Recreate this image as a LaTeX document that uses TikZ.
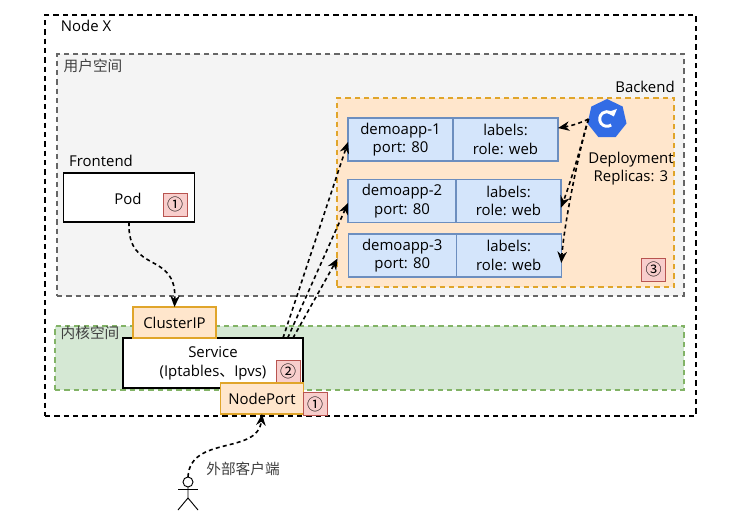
\documentclass[tikz,border=0pt]{standalone}
\usepackage{fontspec}
\setmainfont{Open Sans}
\newfontfamily\cjkfont{Noto Sans CJK SC}
\usetikzlibrary{arrows.meta, positioning, shapes.geometric}
\definecolor{userfill}{HTML}{F4F4F4}
\definecolor{kernfill}{HTML}{D5E8D4}
\definecolor{kerndraw}{HTML}{82B366}
\definecolor{backfill}{HTML}{FFE6CC}
\definecolor{backdraw}{HTML}{E0A52A}
\definecolor{appfill}{HTML}{D4E5FB}
\definecolor{appdraw}{HTML}{6C8EBF}
\definecolor{numfill}{HTML}{F8CECC}
\definecolor{numdraw}{HTML}{B85450}
\definecolor{k8sblue}{HTML}{326CE5}

\begin{document}
\begin{tikzpicture}[
    x=0.75pt, y=-0.75pt,
    every node/.style={outer sep=0pt, inner sep=0pt, font=\fontsize{11.2}{14}\selectfont},
    space/.style={
        rectangle,
        dashed,
        dash pattern=on 4pt off 3pt,
        draw
    },
    whitebox/.style={
        rectangle,
        draw,
        fill=white,
        line width=1.1pt,
        align=center
    },
    portbox/.style={
        rectangle,
        draw=backdraw,
        fill=backfill,
        line width=1.2pt,
        minimum width=62pt,
        minimum height=23.25pt
    },
    appbox/.style={
        rectangle,
        draw=appdraw,
        fill=appfill,
        line width=0.9pt,
        minimum width=78.75pt,
        minimum height=32.25pt,
        align=center
    },
    numbox/.style={
        rectangle,
        draw=numdraw,
        fill=numfill,
        line width=0.4pt,
        minimum width=18pt,
        minimum height=17.25pt,
        font=\cjkfont\fontsize{12}{14}\selectfont
    },
    cjklabel/.style={font=\cjkfont\fontsize{11}{13}\selectfont, text=black!75},
    arrow/.style={
        -{Stealth[length=3mm, width=2.5mm]},
        dashed,
        dash pattern=on 3pt off 2.4pt,
        line width=1.2pt
    }
]
\useasboundingbox (0,0) rectangle (756,512);

% Spaces
\node[space, line width=1pt, minimum width=488.25pt, minimum height=300.75pt] (nodex) at (370.5,215.5) {};
\node[space, draw=black!60, fill=userfill, line width=0.9pt, minimum width=470.25pt, minimum height=181.5pt] (user) at (370.5,175) {};
\node[space, draw=kerndraw, fill=kernfill, line width=0.9pt, minimum width=471.75pt, minimum height=48pt] (kernel) at (369.5,358) {};
\node[space, draw=backdraw, fill=backfill, line width=1.1pt, minimum width=252.75pt, minimum height=141.75pt] (backend) at (505.5,192.5) {};

% Space labels
\node (nodexlabel) at (86,26) {Node X};
\node[cjklabel] (userlabel) at (93,66) {用户空间};
\node[cjklabel] (kernlabel) at (90,333) {内核空间};
\node (backlabel) at (645,87) {Backend};
\node (frontlabel) at (101,161) {Frontend};

% Frontend
\node[whitebox, minimum width=98pt, minimum height=36.75pt] (pod) at (129,197.5) {};
\node (podtext) at (128,199) {Pod};
\node[numbox] (numpod) at (175,204.5) {①};

% Service
\node[whitebox, minimum width=135pt, minimum height=37.5pt] (service) at (213,363) {Service\\(Iptables{\cjkfont 、}Ipvs)};
\node[portbox] (cluster) at (174.5,322.5) {ClusterIP};
\node[numbox] (numservice) at (288,371.5) {②};
\node[portbox] (nodeport) at (262,398.5) {NodePort};
\node[numbox] (numport) at (315,404) {①};

% Backend pods
\node[appbox] (app1) at (400.5,139.5) {demoapp-1\\port: 80};
\node[appbox, right=0pt of app1] (labels1) {labels:\\role: web};
\node[appbox, minimum width=81pt] (app2) at (402,201) {demoapp-2\\port: 80};
\node[appbox, right=0pt of app2] (labels2) {labels:\\role: web};
\node[appbox, minimum width=81pt] (app3) at (402.25,255.5) {demoapp-3\\port: 80};
\node[appbox, right=0pt of app3] (labels3) {labels:\\role: web};
\node[numbox] (numback) at (653.5,269.5) {③};

% Deployment
\node[regular polygon, regular polygon sides=7, fill=k8sblue, minimum size=30pt] (deploy) at (607,119) {};
\draw[white, line width=2.2pt, -{Triangle[length=1.6mm, width=2.8mm]}] ([shift={(3.15pt,-4.5pt)}]deploy.center) arc[start angle=-55, end angle=-340, radius=5.5pt];
\node[align=center, below=11pt of deploy, xshift=18pt] (deploytext) {Deployment\\Replicas: 3};

% Client
\node[circle, draw, line width=0.7pt, minimum size=7.5pt] (client) at (188,482) {};
\node[cjklabel] (clientlabel) at (243,469) {外部客户端};
\coordinate (hip) at (188,498);
\coordinate (armleft) at (178,489);
\coordinate (armright) at (198,489);
\coordinate (legleft) at (178,510);
\coordinate (legright) at (198,510);
\draw[line width=0.7pt] (client) -- (hip) -- (legleft);
\draw[line width=0.7pt] (hip) -- (legright);
\draw[line width=0.7pt] (armleft) -- (armright);

% Arrows
\draw[arrow] (pod.south) .. controls (127,275) and (177,250) .. (cluster.north);
\draw[arrow] (client.north) .. controls (190,435) and (258,455) .. (nodeport.south);
\draw[arrow] ([xshift=52.5pt]service.north) -- ([yshift=-1.9pt]app1.west);
\draw[arrow] ([xshift=56pt]service.north) -- ([yshift=-1.5pt]app2.west);
\draw[arrow] ([xshift=60pt]service.north) -- ([shift={(-8pt,-2.2pt)}]app3.west);
\draw[arrow] (deploy.west) .. controls (578,124) and (570,126) .. ([yshift=8.6pt]labels1.east);
\draw[arrow] (deploy.west) .. controls (585,130) and (575,170) .. ([yshift=-5pt]labels2.east);
\draw[arrow] (deploy.west) .. controls (583,135) and (565,215) .. ([yshift=-5.6pt]labels3.east);
\end{tikzpicture}
\end{document}
